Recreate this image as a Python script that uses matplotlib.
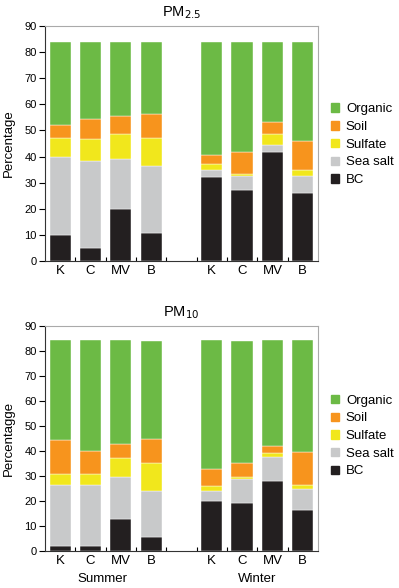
import numpy as np
import matplotlib.pyplot as plt
from matplotlib.patches import Patch

plt.rcParams['font.family'] = ['Liberation Sans', 'DejaVu Sans']

# sites, summer then winter
sites = ["K", "C", "MV", "B", "K", "C", "MV", "B"]
components = ["BC", "Sea salt", "Sulfate", "Soil", "Organic"]
colors = ["#231f20", "#c8c9ca", "#f1e71c", "#f7941d", "#6cba45"]

# PM2.5 shares (%)
pm25_bc = [10.0, 4.8, 19.8, 10.7, 32.2, 27.1, 41.6, 25.9]
pm25_seasalt = [30.0, 33.5, 19.2, 25.8, 2.8, 5.6, 3.0, 6.8]
pm25_sulfate = [7.0, 8.5, 9.8, 10.7, 2.1, 0.8, 4.0, 2.3]
pm25_soil = [5.2, 7.7, 6.9, 9.2, 3.4, 8.4, 4.8, 11.1]
pm25_organic = [31.8, 29.5, 28.3, 27.6, 43.5, 42.1, 30.6, 37.9]

# PM10 shares (%)
pm10_bc = [2.0, 2.0, 12.6, 5.5, 19.8, 19.0, 28.0, 16.2]
pm10_seasalt = [24.4, 24.4, 16.9, 18.3, 4.0, 9.7, 9.4, 8.7]
pm10_sulfate = [4.3, 4.5, 7.6, 11.2, 2.0, 0.7, 1.7, 1.3]
pm10_soil = [13.8, 9.0, 5.6, 9.7, 7.1, 5.9, 3.0, 13.5]
pm10_organic = [39.6, 44.2, 41.4, 39.0, 51.2, 48.4, 42.0, 44.4]

x = np.array([0, 1, 2, 3, 5, 6, 7, 8])


def draw_panel(ax, parts, title, ylabel, legend_y):
    bottom = np.zeros(len(x))
    for vals, col in zip(parts, colors):
        ax.bar(x, vals, width=0.7, bottom=bottom, color=col,
               edgecolor="white", linewidth=0.3)
        bottom += np.array(vals)
    ax.set_xlim(-0.5, 8.5)
    ax.set_ylim(0, 90)
    ax.set_yticks(range(0, 91, 10))
    ax.set_xticks(x)
    ax.set_xticklabels(sites, fontsize=9.5)
    ax.set_xticks(np.arange(0.5, 8, 1), minor=True)
    ax.tick_params(axis="x", which="major", length=0, pad=3)
    ax.tick_params(axis="x", which="minor", direction="in", length=3, width=0.8)
    ax.tick_params(axis="y", labelsize=8, length=4, width=0.8, pad=2)
    ax.set_ylabel(ylabel, fontsize=9.5, labelpad=7)
    ax.set_title(title, fontsize=10.5, pad=7)
    for s in ["top", "right"]:
        ax.spines[s].set_color("#aaaaaa")
    ax.spines["left"].set_color("#333333")
    ax.spines["bottom"].set_color("#333333")
    handles = [Patch(color=c, label=l) for c, l in zip(colors, components)]
    ax.legend(handles=handles[::-1], loc="center left",
              bbox_to_anchor=(1.03, legend_y), frameon=False, fontsize=9.5,
              handlelength=0.6, handleheight=0.6, handletextpad=0.5,
              labelspacing=0.43, borderaxespad=0)


fig = plt.figure(figsize=(3.99, 5.88), dpi=100)
ax1 = fig.add_axes([0.1128, 0.5561, 0.684, 0.3997])
ax2 = fig.add_axes([0.1128, 0.0629, 0.684, 0.3832])

draw_panel(ax1, [pm25_bc, pm25_seasalt, pm25_sulfate, pm25_soil, pm25_organic],
           r"PM$_{2.5}$", "Percentage", 0.495)
draw_panel(ax2, [pm10_bc, pm10_seasalt, pm10_sulfate, pm10_soil, pm10_organic],
           r"PM$_{10}$", "Percentagge", 0.51)

ax2.text(1.4, -0.122, "Summer", transform=ax2.get_xaxis_transform(),
         ha="center", va="center", fontsize=9.5)
ax2.text(6.5, -0.122, "Winter", transform=ax2.get_xaxis_transform(),
         ha="center", va="center", fontsize=9.5)

fig.savefig("out.png", dpi=100)
